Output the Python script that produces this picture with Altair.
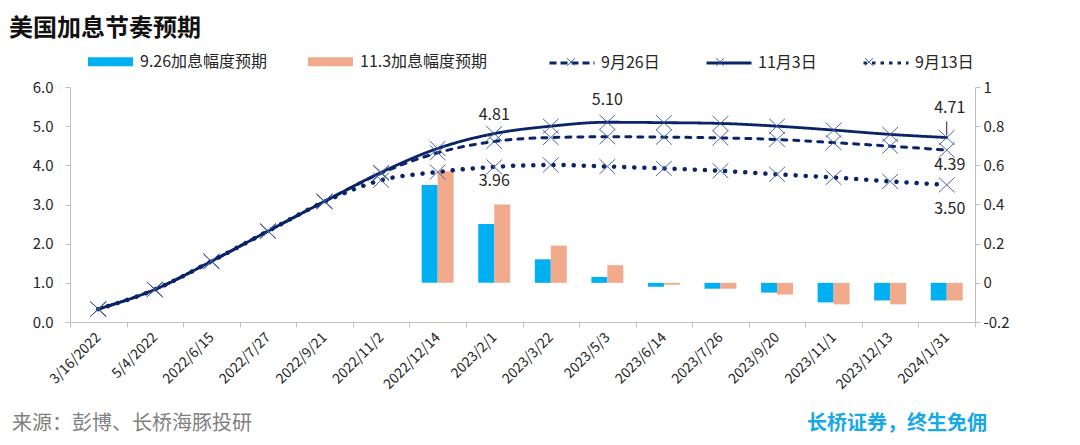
import altair as alt
import pandas as pd

# ---------------- data ----------------
dates = ["3/16/2022", "5/4/2022", "2022/6/15", "2022/7/27", "2022/9/21", "2022/11/2",
         "2022/12/14", "2023/2/1", "2023/3/22", "2023/5/3", "2023/6/14", "2023/7/26",
         "2023/9/20", "2023/11/1", "2023/12/13", "2024/1/31"]

line_series = ["9月26日", "11月3日", "9月13日"]
sep26 = [0.33, 0.83, 1.55, 2.32, 3.08, 3.80, 4.32, 4.61, 4.71, 4.73, 4.72, 4.70, 4.66, 4.58, 4.49, 4.39]
nov3 = [0.33, 0.83, 1.55, 2.32, 3.08, 3.82, 4.43, 4.81, 5.00, 5.10, 5.09, 5.07, 5.00, 4.90, 4.79, 4.71]
sep13 = [0.33, 0.83, 1.55, 2.32, 3.07, 3.62, 3.83, 3.96, 4.01, 3.97, 3.92, 3.86, 3.77, 3.69, 3.59, 3.50]

bar_series = ["9.26加息幅度预期", "11.3加息幅度预期"]
bar_dates = dates[6:]
hike_926 = [0.50, 0.30, 0.12, 0.03, -0.02, -0.03, -0.05, -0.10, -0.09, -0.09]
hike_113 = [0.57, 0.40, 0.19, 0.09, -0.01, -0.03, -0.06, -0.11, -0.11, -0.09]

left_ticks = [0, 1, 2, 3, 4, 5, 6]
right_ticks = [-0.2, 0, 0.2, 0.4, 0.6, 0.8, 1.0]

title_text = "美国加息节奏预期"
source_text = "来源：彭博、长桥海豚投研"
slogan_text = "长桥证券，终生免佣"

# ---------------- styles ----------------
FONT = "Noto Sans CJK SC"
NAVY = "#0a2468"
MARK = "#3d57a0"
BLUE = "#00b0f0"
SALMON = "#f2aa8c"
AXIS = "#bfbfbf"
TXT = "#262626"
XPATH = "M-0.18,-0.17L0.18,0.17M-0.18,0.17L0.18,-0.17"

lines_df = pd.DataFrame({
    "date": dates * 3,
    "series": [s for s in line_series for _ in dates],
    "value": sep26 + nov3 + sep13,
})
bars_df = pd.DataFrame({
    "date": bar_dates * 2,
    "series": [s for s in bar_series for _ in bar_dates],
    "value": hike_926 + hike_113,
})

x_enc = alt.X(
    "date:N", sort=dates,
    scale=alt.Scale(paddingInner=0, paddingOuter=0),
    axis=alt.Axis(title=None, labelAngle=-45, labelAlign="right", labelBaseline="middle",
                  tickBand="extent", labelPadding=8, tickSize=5, labelFontSize=14,
                  domainColor=AXIS, tickColor=AXIS, labelColor=TXT, labelFont=FONT,
                  grid=False),
)
x_plain = alt.X("date:N", sort=dates)

yL = alt.Scale(domain=[0, 6], nice=False)

bars = alt.Chart(bars_df).mark_bar().encode(
    x=x_enc,
    xOffset=alt.XOffset("series:N", sort=bar_series,
                        scale=alt.Scale(paddingOuter=0.77, paddingInner=0)),
    y=alt.Y("value:Q", scale=alt.Scale(domain=[-0.2, 1.0], nice=False),
            axis=alt.Axis(orient="right", values=right_ticks, title=None, grid=False,
                          labelExpr="datum.value == 0 ? '0' : datum.value == 1 ? '1' : replace(format(datum.value, '.1f'), '\u2212', '-')",
                          tickSize=5, labelPadding=3, labelFontSize=15,
                          domainColor=AXIS, tickColor=AXIS, labelColor=TXT, labelFont=FONT)),
    y2=alt.datum(0),
    color=alt.Color("series:N", sort=bar_series,
                    scale=alt.Scale(domain=bar_series, range=[BLUE, SALMON]),
                    legend=alt.Legend(title=None, orient="none", legendX=18, legendY=-48,
                                      direction="horizontal",
                                      symbolType="M-1,-0.2L1,-0.2L1,0.2L-1,0.2Z",
                                      symbolSize=2025, symbolStrokeWidth=0,
                                      labelFont=FONT, labelFontSize=16, labelColor=TXT,
                                      labelOffset=7, columnPadding=40)),
)

y_left_axis = alt.Axis(orient="left", values=left_ticks, format=".1f", title=None, grid=False,
                       tickSize=5, labelPadding=12, labelFontSize=15,
                       domainColor=AXIS, tickColor=AXIS, labelColor=TXT, labelFont=FONT)


def series_line(name, dash, width, cap):
    d = lines_df[lines_df.series == name]
    return alt.Chart(d).mark_line(interpolate="monotone", strokeCap=cap, color=NAVY,
                                  strokeDash=dash, strokeWidth=width).encode(
        x=x_plain,
        y=alt.Y("value:Q", scale=yL, axis=None),
    )


line_dashed = series_line("9月26日", [5, 7], 3, "round")
line_solid = series_line("11月3日", [1, 0], 2.8, "round")
line_dotted = series_line("9月13日", [0.1, 10], 4.5, "round")

# one point per series: draws no line, only carries the left axis and the legend
legend_lines = alt.Chart(lines_df[lines_df.date == dates[0]]).mark_line(color=NAVY, strokeCap="butt").encode(
    x=x_plain,
    y=alt.Y("value:Q", scale=yL, axis=y_left_axis),
    strokeDash=alt.StrokeDash("series:N", sort=line_series,
                              scale=alt.Scale(domain=line_series, range=[[7, 4], [1, 0], [3.5, 5]]),
                              legend=alt.Legend(title=None, orient="none", legendX=478, legendY=-48,
                                                direction="horizontal", symbolType="M-1,0L1,0",
                                                symbolSize=2025, symbolStrokeWidth=3,
                                                symbolStrokeColor=NAVY,
                                                labelFont=FONT, labelFontSize=16, labelColor=TXT,
                                                labelOffset=5, columnPadding=40)),
)

# marker legend drawn on top of the line legend (labels empty, spacing matched)
markers = alt.Chart(lines_df).mark_point(
    size=7744, filled=False, stroke=MARK, strokeWidth=1, opacity=0.9
).encode(
    x=x_plain,
    y=alt.Y("value:Q", scale=yL, axis=None),
    shape=alt.Shape("series:N", sort=line_series,
                    scale=alt.Scale(domain=line_series, range=[XPATH, XPATH, XPATH]),
                    legend=alt.Legend(title=None, orient="none", legendX=478, legendY=-48,
                                      direction="horizontal", symbolSize=2025,
                                      symbolStrokeWidth=1, symbolStrokeColor=MARK,
                                      symbolFillColor="transparent",
                                      labelFont=FONT, labelFontSize=16, labelExpr="''",
                                      labelOffset=0, columnPadding=103)),
)


def ann(series, date, dy, dx=0):
    d = lines_df[(lines_df.series == series) & (lines_df.date == date)]
    return alt.Chart(d).mark_text(font=FONT, fontSize=16, color=TXT, dy=dy, dx=dx).encode(
        x=x_plain,
        y=alt.Y("value:Q", scale=yL, axis=None),
        text=alt.Text("value:Q", format=".2f"),
    )


anns = [
    ann("11月3日", "2023/2/1", -19),
    ann("11月3日", "2023/5/3", -22),
    ann("11月3日", "2024/1/31", -30, 3),
    ann("9月26日", "2024/1/31", 15, 3),
    ann("9月13日", "2024/1/31", 24, 3),
    ann("9月13日", "2023/2/1", 14),
]

leader = alt.Chart(lines_df[(lines_df.series == "11月3日") & (lines_df.date == "2024/1/31")]).mark_rule(
    color=TXT, strokeWidth=1, yOffset=-2, y2Offset=-16
).encode(
    x=x_plain,
    y=alt.Y("value:Q", scale=yL, axis=None),
    y2="value:Q",
)


def label(text, x, y, size, color, weight="normal", align="left"):
    return alt.Chart(pd.DataFrame({"t": [text]})).mark_text(
        font=FONT, fontSize=size, color=color, fontWeight=weight, align=align, baseline="middle"
    ).encode(x=alt.value(x), y=alt.value(y), text="t:N")


title = label(title_text, -61, -58, 24, "#111111", "bold")
source = label(source_text, -58, 337, 20, "#7f7f7f")
slogan = label(slogan_text, 737, 337, 20, "#17a8e6", "bold")

chart = alt.layer(
    bars, legend_lines, line_dotted, line_dashed, line_solid, markers, leader, *anns,
    title, source, slogan
).resolve_scale(
    y="independent", color="independent", strokeDash="independent", shape="independent"
).properties(
    width=905, height=235,
    padding={"left": 62, "top": 79, "right": 97, "bottom": 115},
    autosize=alt.AutoSizeParams(type="none"),
    background="white",
).configure_view(stroke=None)

chart.save("out.html", embed_options={"renderer": "svg", "actions": False})
